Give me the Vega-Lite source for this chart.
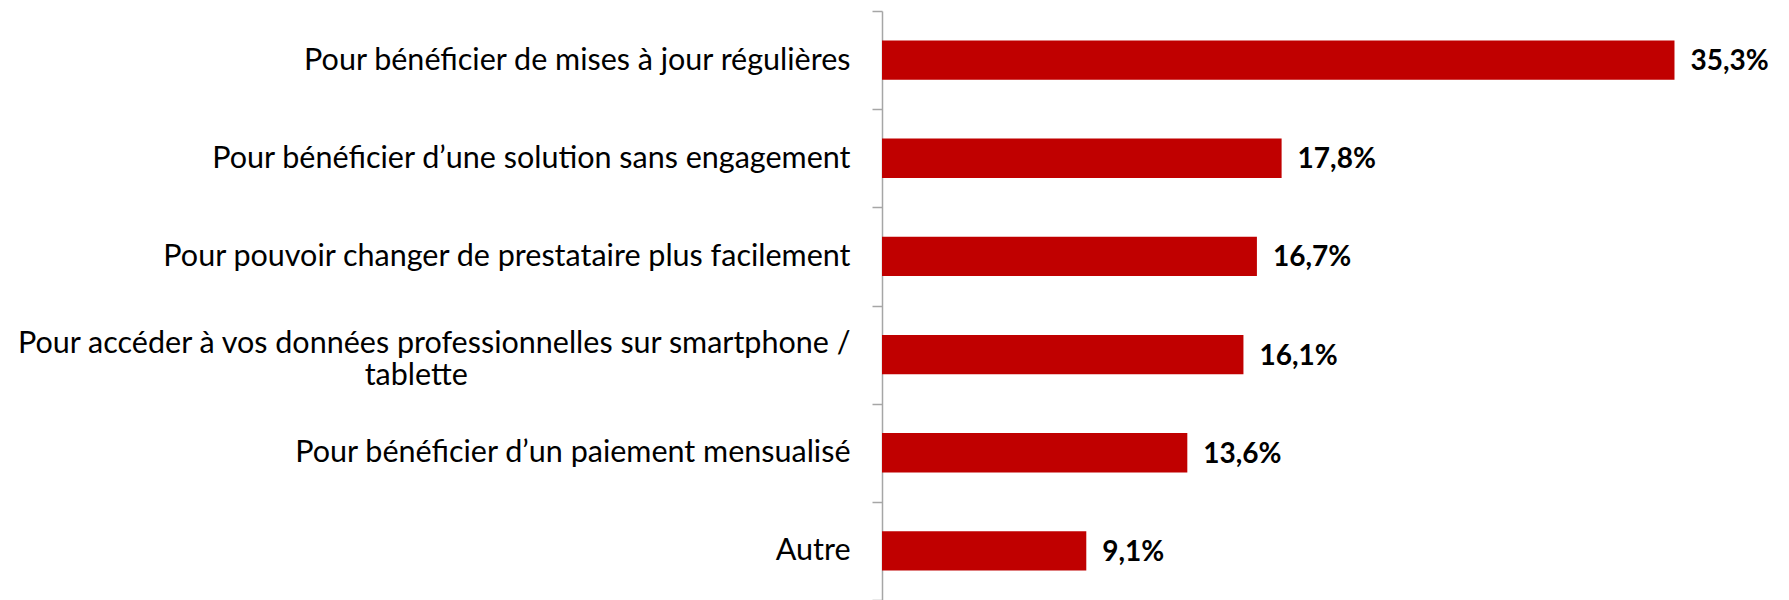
{
  "$schema": "https://vega.github.io/schema/vega-lite/v6.json",
  "autosize": {"type": "none"},
  "padding": {"left": 882, "top": 11, "right": 9, "bottom": 0},
  "width": 898,
  "height": 589,
  "background": "white",
  "data": {"values": [
    {"label": "Pour bénéficier de mises à jour régulières", "value": 35.3},
    {"label": "Pour bénéficier d’une solution sans engagement", "value": 17.8},
    {"label": "Pour pouvoir changer de prestataire plus facilement", "value": 16.7},
    {"label": "Pour accéder à vos données professionnelles sur smartphone / tablette", "value": 16.1},
    {"label": "Pour bénéficier d’un paiement mensualisé", "value": 13.6},
    {"label": "Autre", "value": 9.1}
  ]},
  "transform": [
    {"calculate": "replace(format(datum.value, '.1f'), '.', ',') + '%'", "as": "txt"}
  ],
  "encoding": {
    "y": {
      "field": "label", "type": "nominal", "sort": null,
      "scale": {"paddingInner": 0, "paddingOuter": 0},
      "axis": {
        "title": null,
        "tickBand": "extent",
        "domainColor": "#a6a6a6", "domainWidth": 1.5,
        "tickColor": "#a6a6a6", "tickWidth": 1.5, "tickSize": 10,
        "labelFont": "Lato", "labelFontSize": 30.5, "labelColor": "#000000",
        "labelPadding": 22, "labelLimit": 0, "labelLineHeight": 32,
        "labelOffset": {"condition": {"test": "datum.value == 'Pour accéder à vos données professionnelles sur smartphone / tablette'", "value": -11}, "value": 0},
        "labelExpr": "datum.label == 'Pour accéder à vos données professionnelles sur smartphone / tablette' ? ['Pour accéder à vos données professionnelles sur smartphone /', 'tablette\u00a0\u00a0\u00a0\u00a0\u00a0\u00a0\u00a0\u00a0\u00a0\u00a0\u00a0\u00a0\u00a0\u00a0\u00a0\u00a0\u00a0\u00a0\u00a0\u00a0\u00a0\u00a0\u00a0\u00a0\u00a0\u00a0\u00a0\u00a0\u00a0\u00a0\u00a0\u00a0\u00a0\u00a0\u00a0\u00a0\u00a0\u00a0\u00a0\u00a0\u00a0\u00a0\u00a0\u00a0\u00a0\u00a0\u00a0\u00a0\u00a0\u200b'] : datum.label"
      }
    },
    "x": {
      "field": "value", "type": "quantitative",
      "scale": {"domain": [0, 40], "nice": false},
      "axis": null
    }
  },
  "layer": [
    {"mark": {"type": "bar", "color": "#c00000", "height": {"band": 0.4}}},
    {"mark": {"type": "text", "align": "left", "baseline": "middle", "dx": 16, "dy": 2, "font": "Lato", "fontSize": 28, "fontWeight": "bold", "color": "#000000"},
     "encoding": {"text": {"field": "txt"}}}
  ],
  "config": {"view": {"stroke": null}}
}
